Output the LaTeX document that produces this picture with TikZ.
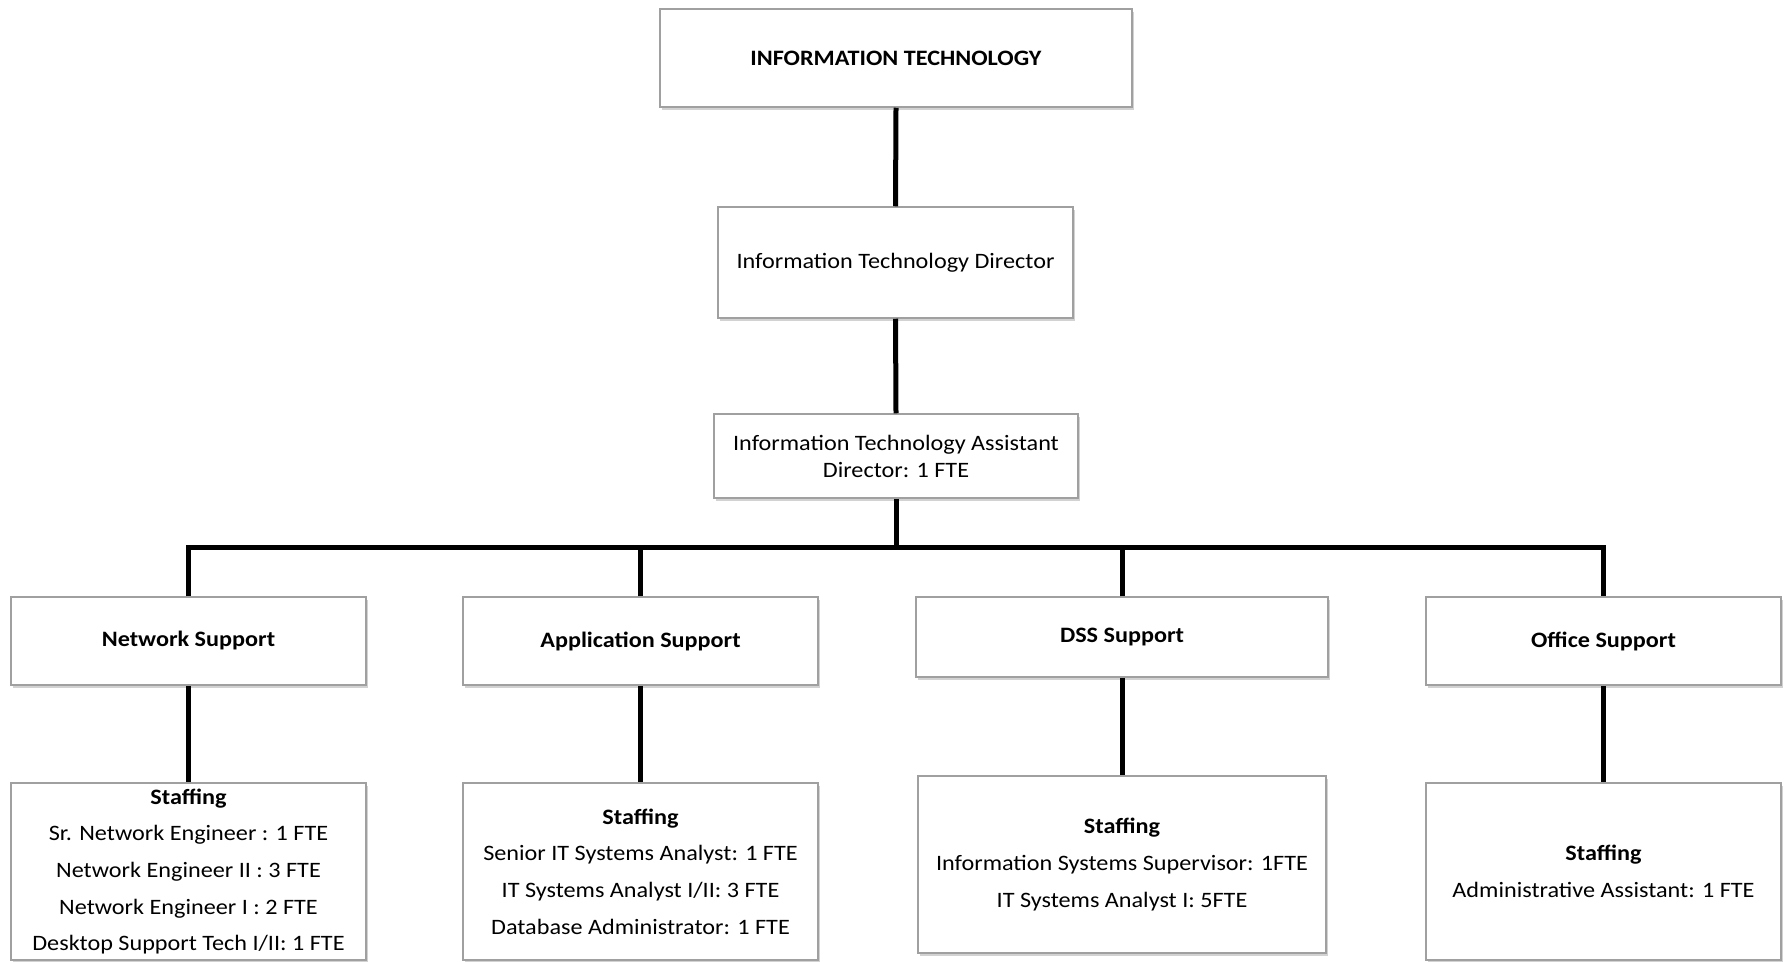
\documentclass[tikz,border=0pt]{standalone}
\usepackage{fontspec}
\setmainfont[FakeStretch=1.1]{Carlito}
\usetikzlibrary{shadows}
\definecolor{boxgray}{RGB}{160,160,160}
\begin{document}
\begin{tikzpicture}[x=1pt,y=-1pt,
  box/.style={draw=boxgray, line width=1.5pt, fill=white, inner sep=0pt, align=center,
    font=\fontsize{22}{27}\selectfont,
    drop shadow={shadow xshift=1.5pt, shadow yshift=-3pt, opacity=0.25, fill=black!70}},
  staffbox/.style={box, font=\fontsize{22}{36.6}\selectfont},
  conn/.style={line width=5pt, draw=black}]
\useasboundingbox (0,0) rectangle (1784,961);
\fill[white] (0,0) rectangle (1784,961);

\node[box, minimum width=472pt, minimum height=98pt] (it) at (896,58) {\textbf{INFORMATION TECHNOLOGY}};
\node[box, minimum width=355pt, minimum height=111pt] (dir) at (895.5,262.5) {Information Technology Director};
\node[box, minimum width=364pt, minimum height=84pt] (asst) at (896,456) {Information Technology Assistant\\Director: 1 FTE};

\node[box, minimum width=355pt, minimum height=88pt] (ns) at (188.5,641) {\textbf{Network Support}};
\node[box, minimum width=355pt, minimum height=88pt] (as) at (640.5,641) {\textbf{Application Support}};
\node[box, minimum width=412pt, minimum height=80pt] (ds) at (1122,637) {\textbf{DSS Support}};
\node[box, minimum width=355pt, minimum height=88pt] (os) at (1603.5,641) {\textbf{Office Support}};

\node[staffbox, minimum width=355pt, minimum height=177pt] (nss) at (188.5,871.5) {\textbf{Staffing}\\Sr. Network Engineer : 1 FTE\\Network Engineer II : 3 FTE\\Network Engineer I : 2 FTE\\Desktop Support Tech I/II: 1 FTE};
\node[staffbox, minimum width=355pt, minimum height=177pt] (ass) at (640.5,871.5) {\textbf{Staffing}\\Senior IT Systems Analyst: 1 FTE\\IT Systems Analyst I/II: 3 FTE\\Database Administrator: 1 FTE};
\node[staffbox, minimum width=408pt, minimum height=177pt] (dss) at (1122,864.5) {\textbf{Staffing}\\Information Systems Supervisor: 1FTE\\IT Systems Analyst I: 5FTE};
\node[staffbox, minimum width=355pt, minimum height=177pt] (oss) at (1603.5,871.5) {\textbf{Staffing}\\Administrative Assistant: 1 FTE};

\coordinate (bar) at (896,547);

\draw[conn] (it.south) -- (dir.north);
\draw[conn] (dir.south) -- (asst.north);
\draw[conn] (asst.south) -- (bar);
\draw[conn] (ns.north) |- (bar) -| (os.north);
\draw[conn] (as.north) -- (as.north |- bar);
\draw[conn] (ds.north) -- (ds.north |- bar);

\draw[conn] (ns.south) -- (nss.north);
\draw[conn] (as.south) -- (ass.north);
\draw[conn] (ds.south) -- (dss.north);
\draw[conn] (os.south) -- (oss.north);
\end{tikzpicture}
\end{document}
